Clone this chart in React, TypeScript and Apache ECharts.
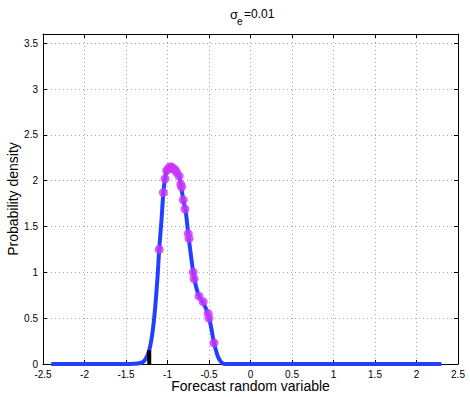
import React, { useEffect, useRef } from "react";
import * as echarts from "echarts";

const curveX = [-2.4, -1.6, -1.45, -1.36, -1.3, -1.26, -1.22, -1.18, -1.15, -1.12, -1.1, -1.07, -1.05, -1.03, -1.01, -0.97, -0.93, -0.89, -0.86, -0.84, -0.81, -0.78, -0.75, -0.72, -0.69, -0.66, -0.62, -0.57, -0.51, -0.47, -0.44, -0.4, -0.37, -0.34, -0.31, -0.25, 0, 1, 2.3];
const curveY = [0, 0, 0, 0.005, 0.02, 0.06, 0.15, 0.35, 0.6, 0.95, 1.25, 1.6, 1.87, 2.02, 2.11, 2.15, 2.13, 2.09, 2.05, 1.96, 1.79, 1.66, 1.42, 1.2, 1.0, 0.86, 0.74, 0.67, 0.54, 0.38, 0.23, 0.1, 0.04, 0.01, 0.0, 0, 0, 0, 0];

const dotX = [-1.1, -1.05, -1.03, -1.01, -0.99, -0.97, -0.95, -0.93, -0.91, -0.89, -0.86, -0.84, -0.83, -0.81, -0.79, -0.75, -0.74, -0.69, -0.68, -0.62, -0.57, -0.51, -0.5, -0.44];
const dotY = [1.25, 1.87, 2.02, 2.11, 2.13, 2.15, 2.15, 2.13, 2.12, 2.09, 2.05, 1.96, 1.93, 1.79, 1.69, 1.42, 1.37, 1.0, 0.93, 0.74, 0.68, 0.55, 0.5, 0.23];

const stemX = -1.22;
const stemY = 0.15;

const xTicks = [-2.5, -2, -1.5, -1, -0.5, 0, 0.5, 1, 1.5, 2, 2.5];
const yTicks = [0, 0.5, 1, 1.5, 2, 2.5, 3, 3.5];

const FONT = "Liberation Sans, Arial, Helvetica, sans-serif";

export default function App() {
  const ref = useRef<HTMLDivElement>(null);
  useEffect(() => {
    if (!ref.current) return;
    const chart = echarts.init(ref.current, null, { renderer: "svg" });
    const fmtX = (v: number) => (xTicks.some((t) => Math.abs(t - v) < 1e-6) ? String(v) : "");
    const fmtY = (v: number) => (yTicks.some((t) => Math.abs(t - v) < 1e-6) ? String(v) : "");
    const gridLine = { show: true, lineStyle: { color: "#aaa", type: [1, 3] as any, width: 1 } };
    chart.setOption({
      animation: false,
      backgroundColor: "#fff",
      grid: { left: 43, right: 12, top: 34, bottom: 33, show: false, outerBoundsMode: "none", containLabel: false },
      graphic: [
        { type: "text", left: 230, top: 8, style: { text: "σ", font: `13px ${FONT}`, fill: "#000" } },
        { type: "text", left: 237, top: 16, style: { text: "e", font: `10px ${FONT}`, fill: "#000" } },
        { type: "text", left: 244, top: 8, style: { text: "=0.01", font: `12px ${FONT}`, fill: "#000" } },
      ],
      xAxis: [
        {
          type: "value", min: -2.5, max: 2.5, interval: 0.5, position: "bottom",
          name: "Forecast random variable", nameLocation: "middle", nameGap: 15, nameMoveOverlap: false,
          nameTextStyle: { fontSize: 14, fontFamily: FONT, color: "#000" },
          axisLine: { show: true, onZero: false, lineStyle: { color: "#000", width: 1 } },
          axisTick: { show: true, inside: true, length: 4, lineStyle: { color: "#000" } },
          axisLabel: { formatter: fmtX, fontSize: 10, lineHeight: 10, fontFamily: FONT, color: "#000", margin: 5 },
          splitLine: gridLine,
        },
        {
          type: "value", min: -2.5, max: 2.5, interval: 0.5, position: "top",
          axisLine: { show: true, onZero: false, lineStyle: { color: "#000", width: 1 } },
          axisTick: { show: true, inside: true, length: 4, lineStyle: { color: "#000" } },
          axisLabel: { show: false }, splitLine: { show: false },
        },
      ],
      yAxis: [
        {
          type: "value", min: 0, max: 3.6, interval: 0.5, position: "left",
          name: "Probability density", nameLocation: "middle", nameGap: 23, nameMoveOverlap: false,
          nameTextStyle: { fontSize: 14, fontFamily: FONT, color: "#000" },
          axisLine: { show: true, onZero: false, lineStyle: { color: "#000", width: 1 } },
          axisTick: { show: true, inside: true, length: 4, lineStyle: { color: "#000" } },
          axisLabel: { formatter: fmtY, fontSize: 10, lineHeight: 10, fontFamily: FONT, color: "#000", margin: 5 },
          splitLine: gridLine,
        },
        {
          type: "value", min: 0, max: 3.6, interval: 0.5, position: "right",
          axisLine: { show: true, onZero: false, lineStyle: { color: "#000", width: 1 } },
          axisTick: { show: true, inside: true, length: 4, lineStyle: { color: "#000" } },
          axisLabel: { show: false }, splitLine: { show: false },
        },
      ],
      series: [
        {
          type: "line", data: curveX.map((x, i) => [x, curveY[i]]), smooth: 0.25, showSymbol: false,
          lineStyle: { color: "#2440ff", width: 4 }, z: 2,
        },
        {
          type: "line", data: [[stemX, 0], [stemX, stemY]], showSymbol: false,
          lineStyle: { color: "#000", width: 4 }, z: 3,
        },
        {
          type: "scatter", data: dotX.map((x, i) => [x, dotY[i]]), symbolSize: 9,
          itemStyle: { color: "#cc33ff" }, z: 4,
        },
      ],
    });
    return () => chart.dispose();
  }, []);
  return <div ref={ref} style={{ width: 470, height: 397, position: "absolute", left: 0, top: 0 }} />;
}
